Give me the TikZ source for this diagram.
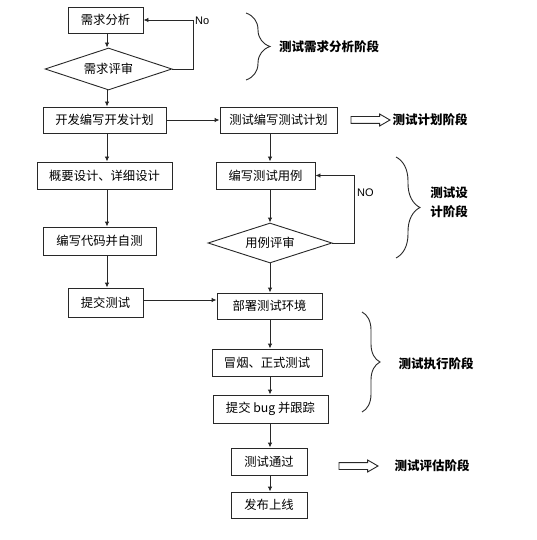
\documentclass[tikz,border=0pt]{standalone}
\usepackage{fontspec}
\setmainfont{Noto Sans CJK SC}
\newfontfamily\latinfont{Liberation Sans}
\usetikzlibrary{shapes.geometric,shapes.arrows,arrows.meta,decorations.pathreplacing}
\definecolor{linec}{RGB}{40,40,40}
\begin{document}
\begin{tikzpicture}[x=1pt,y=-1pt,
  font=\fontsize{12.3}{14}\selectfont,
  box/.style={draw=linec, line width=0.9pt, inner sep=0pt, text=black},
  dia/.style={draw=linec, diamond, aspect=3, inner sep=0pt, line width=0.9pt, text=black},
  arr/.style={draw=linec, line width=0.9pt, -{Latex[length=5pt,width=4.5pt]}},
  lbl/.style={font=\fontsize{12.5}{19}\selectfont\bfseries, text=black},
  brc/.style={draw=linec, line width=0.9pt, decorate, decoration={brace, amplitude=#1}},
  blk/.style={single arrow, draw=linec, line width=0.9pt, inner sep=3pt,
     single arrow head extend=2.5pt, single arrow tip angle=60, minimum height=39pt},
  nolbl/.style={font=\latinfont\fontsize{11}{12}\selectfont, text=black, inner sep=0pt}
]
\useasboundingbox (0,0) rectangle (536,540);
\fill[white] (0,0) rectangle (536,540);

% column coordinates
\coordinate (c1) at (107,0);
\coordinate (c2) at (270,0);

% left column
\node[box, minimum width=75, minimum height=26] (a1) at (105.5,20) {需求分析};
\node[dia, minimum width=127, minimum height=42] (d1) at (108.5,69) {需求评审};
\node[box, minimum width=123, minimum height=26] (a2) at (104.5,120) {开发编写开发计划};
\node[box, minimum width=135, minimum height=27] (a3) at (104.5,175.5) {概要设计、详细设计};
\node[box, minimum width=113, minimum height=28] (a4) at (99.5,241) {编写代码并自测};
\node[box, minimum width=75, minimum height=29] (a5) at (105.5,302.5) {提交测试};

% right column
\node[box, minimum width=117, minimum height=26] (b1) at (278.5,120) {测试编写测试计划};
\node[box, minimum width=99, minimum height=27] (b2) at (265.5,175.5) {编写测试用例};
\node[dia, minimum width=124, minimum height=40] (d2) at (270,243) {用例评审};
\node[box, minimum width=105, minimum height=26] (b3) at (269.5,306) {部署测试环境};
\node[box, minimum width=110, minimum height=27] (b4) at (267,362.5) {冒烟、正式测试};
\node[box, minimum width=115, minimum height=28] (b5) at (270.5,409) {提交 bug 并跟踪};
\node[box, minimum width=76, minimum height=27] (b6) at (269,461.5) {测试通过};
\node[box, minimum width=76, minimum height=26] (b7) at (269,505) {发布上线};

% left column arrows
\draw[arr] (a1.south -| c1) -- (d1.north -| c1);
\draw[arr] (d1.south -| c1) -- (a2.north -| c1);
\draw[arr] (a2.south -| c1) -- (a3.north -| c1);
\draw[arr] (a3.south -| c1) -- (a4.north -| c1);
\draw[arr] (a4.south -| c1) -- (a5.north -| c1);

% right column arrows
\draw[arr] (b1.south -| c2) -- (b2.north -| c2);
\draw[arr] (b2.south -| c2) -- (d2.north -| c2);
\draw[arr] (d2.south -| c2) -- (b3.north -| c2);
\draw[arr] (b3.south -| c2) -- (b4.north -| c2);
\draw[arr] (b4.south -| c2) -- (b5.north -| c2);
\draw[arr] (b5.south -| c2) -- (b6.north -| c2);
\draw[arr] (b6.south -| c2) -- (b7.north -| c2);

% horizontal arrows
\draw[arr] (a2.east) -- (a2.east -| b1.west);
\coordinate (h2) at (0,300);
\draw[arr] (a5.east |- h2) -- (b3.west |- h2);

% loops
\coordinate (n1) at (193,0);
\draw[arr] (d1.east) -- (d1.east -| n1) -- (n1 |- a1.east) -- (a1.east);
\node[nolbl, anchor=west] (no1) at (195,21) {No};
\coordinate (n2) at (354,0);
\draw[arr] (d2.east) -- (d2.east -| n2) -- (n2 |- b2.east) -- (b2.east);
\node[nolbl, anchor=west] (no2) at (357,193) {NO};

% braces
\coordinate (br1t) at (246,13);
\coordinate (br1b) at (246,80);
\draw[brc=24pt] (br1t) -- (br1b);
\node[lbl] (l1) at (329,47) {测试需求分析阶段};

\coordinate (br2t) at (396,157);
\coordinate (br2b) at (396,258);
\draw[brc=24pt] (br2t) -- (br2b);
\node[lbl, align=center] (l3) at (449,202.5) {测试设\\计阶段};

\coordinate (br3t) at (362,312);
\coordinate (br3b) at (362,412);
\draw[brc=18pt] (br3t) -- (br3b);
\node[lbl] (l4) at (436,364) {测试执行阶段};

% block arrows
\node[blk] (ba1) at (367.5,120) {};
\node[lbl] (l2) at (430,120) {测试计划阶段};
\node[blk] (ba2) at (355.5,466) {};
\node[lbl] (l5) at (432,466) {测试评估阶段};
\end{tikzpicture}
\end{document}
